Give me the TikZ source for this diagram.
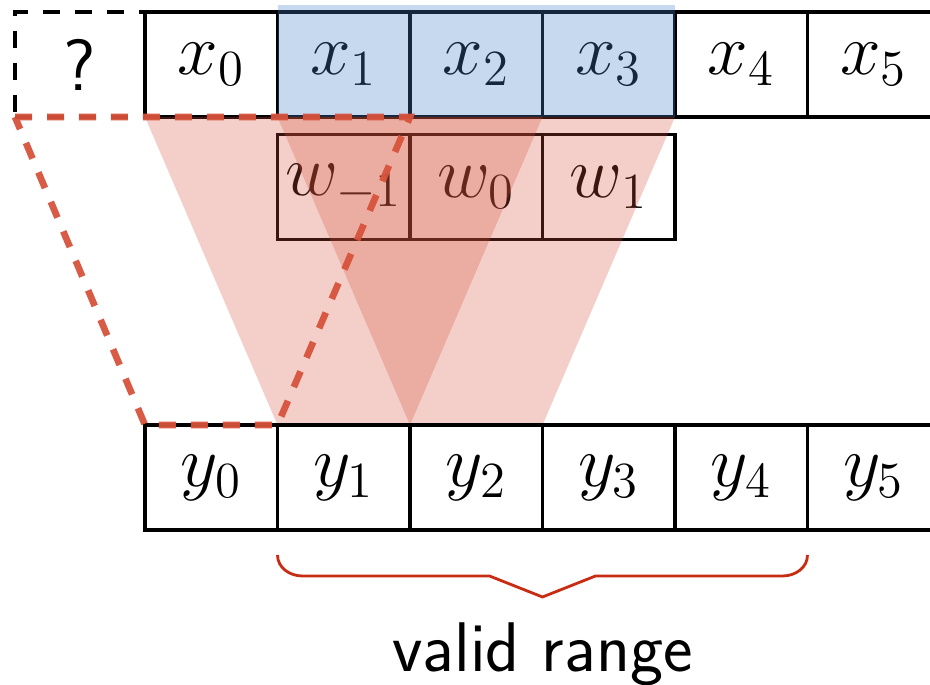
\documentclass[tikz,border=0pt]{standalone}
\usepackage{tikz}
\usetikzlibrary{positioning, calc}
\usepackage{amsmath}
\usepackage{xcolor}
\definecolor{convred}{RGB}{214,82,60}
\definecolor{bracered}{RGB}{200,45,20}
\definecolor{inblue}{RGB}{70,130,200}
\tikzset{
  cell/.style={draw=black, line width=1pt, minimum width=1.325cm,
               minimum height=1.05cm, inner sep=0pt, outer sep=0pt,
               font=\huge},
  padcell/.style={cell, dashed, dash pattern=on 0.17cm off 0.15cm,
                  minimum width=1.30cm, font=\huge\sffamily},
  redfill/.style={fill=convred, opacity=0.28, draw=none},
  reddash/.style={convred, line width=1.9pt, dash pattern=on 0.17cm off 0.15cm,
                  opacity=0.95}
}

\begin{document}
\begin{tikzpicture}
\useasboundingbox (0,0) rectangle (9.3,6.85);

% ── Input row ────────────────────────────────────────────────────────────────
\node[padcell] (q) at (0.80,6.205) {?};
\foreach \i in {0,...,5} {
  \node[cell] (x\i) at ({2.1125+1.325*\i},6.205) {$x_\i$};
}

% ── Weights ──────────────────────────────────────────────────────────────────
\foreach \j/\lbl in {1/{-1}, 2/0, 3/1} {
  \node[cell] (w\j) at ({2.1125+1.325*\j},4.98) {$w_{\lbl}$};
}

% Receptive field on the input
\fill[inblue, opacity=0.3] (x1.south west) rectangle ($(x3.north east)+(0,0.07)$);

% ── Kernel footprints ────────────────────────────────────────────────────────
\coordinate (b1) at ({2.1125+1.325*1-0.6625},2.60);
\coordinate (b2) at ({2.1125+1.325*2-0.6625},2.60);
\coordinate (b3) at ({2.1125+1.325*3-0.6625},2.60);
\fill[redfill] (x0.south west) -- (x3.south east) -- (b3) -- (b1) -- cycle;
\fill[redfill] (x1.south west) -- (x2.south east) -- (b2) -- cycle;

% ── Output row ───────────────────────────────────────────────────────────────
\foreach \i in {0,...,5} {
  \node[cell] (y\i) at ({2.1125+1.325*\i},2.075) {$y_\i$};
}

% Padded footprint for y_0
\draw[reddash] (q.south west) -- (x1.south east) -- (y1.north west)
               -- (y0.north west) -- cycle;

% ── Valid range brace ────────────────────────────────────────────────────────
\coordinate (bl) at ($(y1.south west)+(0,-0.25)$);
\coordinate (br) at ($(y4.south east)+(0,-0.25)$);
\coordinate (tip) at ($(y2.south east)+(0,-0.67)$);
\draw[bracered, line width=0.8pt, line join=round]
  (bl) to[out=-90,in=180] ++(0.25,-0.21)
  -- ($(tip)+(-0.53,0.21)$) -- (tip) -- ($(tip)+(0.53,0.21)$)
  -- ($(br)+(-0.25,-0.21)$) to[out=0,in=-90] (br);
\node[font=\fontsize{20}{24}\selectfont\sffamily, inner sep=0pt,
      below=0.25cm of tip] (lbl) {valid range};

\end{tikzpicture}
\end{document}
